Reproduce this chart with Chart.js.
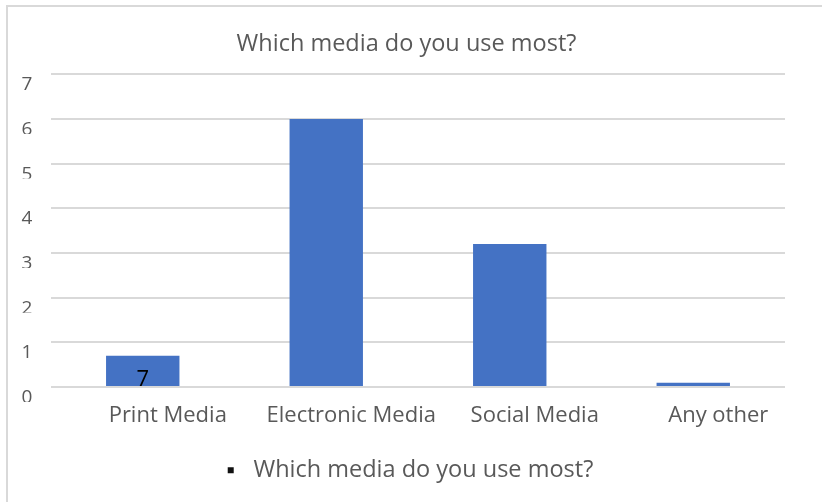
<!DOCTYPE html>
<html>
<head>
<meta charset="utf-8">
<script src="https://cdn.jsdelivr.net/npm/chart.js@4"></script>
<style>
  body { margin: 0; background: #fff; }
  #box { position: relative; width: 822px; height: 502px; }
  #frame { position: absolute; left: 6px; top: 5px; right: 0; bottom: 0;
           border-left: 2px solid #d9d9d9; border-top: 2px solid #d9d9d9; }
  #media-chart { position: absolute; left: 0; top: 0; }
</style>
</head>
<body>
<div id="box">
  <div id="frame"></div>
  <canvas id="media-chart" width="822" height="502"></canvas>
</div>
<script>
var categorie = ["Print Media", "Electronic Media", "Social Media", "Any other"];
var valori = [0.7, 6, 3.2, 0.1];
var etichetteBarre = ["7", "", "", ""];
var tickY = [0, 1, 2, 3, 4, 5, 6, 7];
var tickTagliati = [0, 2, 3, 5, 6];

var titolo = "Which media do you use most?";
var grigioTesto = "#595959";
var font = "'Open Sans', sans-serif";

// etichette dell'asse y disegnate a mano, alcune tagliate in basso
var asseYManuale = {
  id: "asseYManuale",
  afterDraw: function(chart) {
    var ctx = chart.ctx;
    var scala = chart.scales.y;
    ctx.save();
    ctx.font = "19px " + font;
    ctx.fillStyle = grigioTesto;
    ctx.textAlign = "center";
    ctx.textBaseline = "top";
    tickY.forEach(function(v) {
      var y = scala.getPixelForValue(v);
      if (tickTagliati.indexOf(v) >= 0) {
        ctx.save();
        ctx.beginPath();
        ctx.rect(10, y, 40, 15);
        ctx.clip();
        ctx.fillText(String(v), 27, y + 1);
        ctx.restore();
      } else {
        ctx.fillText(String(v), 27, y + 1);
      }
    });
    ctx.restore();
  }
};

// testo sopra la base delle barre
var etichetteDati = {
  id: "etichetteDati",
  afterDatasetsDraw: function(chart) {
    var ctx = chart.ctx;
    var meta = chart.getDatasetMeta(0);
    ctx.save();
    ctx.font = "22px " + font;
    ctx.fillStyle = "#000";
    ctx.textAlign = "center";
    ctx.textBaseline = "middle";
    meta.data.forEach(function(barra, i) {
      if (etichetteBarre[i]) {
        ctx.fillText(etichetteBarre[i], barra.x, barra.base - 6);
      }
    });
    ctx.restore();
  }
};

new Chart(document.getElementById("media-chart"), {
  type: "bar",
  data: {
    labels: categorie,
    datasets: [{
      label: titolo,
      data: valori,
      backgroundColor: "#4472c4",
      categoryPercentage: 1,
      barPercentage: 0.4
    }]
  },
  options: {
    responsive: false,
    animation: false,
    layout: { padding: { left: 28, right: 37, top: 14, bottom: 10 } },
    scales: {
      x: {
        grid: { display: false },
        border: { display: false },
        ticks: {
          color: grigioTesto,
          font: { family: font, size: 22 },
          labelOffset: 25,
          padding: 7,
          maxRotation: 0,
          autoSkip: false
        }
      },
      y: {
        min: 0,
        max: 7,
        ticks: { display: false, stepSize: 1 },
        grid: { color: "#d9d9d9", lineWidth: 2, drawTicks: false },
        border: { display: false },
        afterFit: function(scala) { scala.width = 23; }
      }
    },
    plugins: {
      title: {
        display: true,
        text: titolo,
        color: grigioTesto,
        font: { family: font, size: 23.5, weight: "normal" },
        padding: { top: 16, bottom: 16 }
      },
      legend: {
        position: "bottom",
        labels: {
          color: grigioTesto,
          font: { family: font, size: 23.5 },
          usePointStyle: true,
          pointStyle: "rect",
          boxWidth: 22,
          boxHeight: 6,
          padding: 23,
          generateLabels: function(chart) {
            return [{
              text: titolo,
              fillStyle: "#111",
              strokeStyle: "#111",
              fontColor: grigioTesto,
              lineWidth: 0,
              pointStyle: "rect",
              datasetIndex: 0
            }];
          }
        }
      },
      tooltip: { enabled: false }
    }
  },
  plugins: [asseYManuale, etichetteDati]
});
</script>
</body>
</html>
